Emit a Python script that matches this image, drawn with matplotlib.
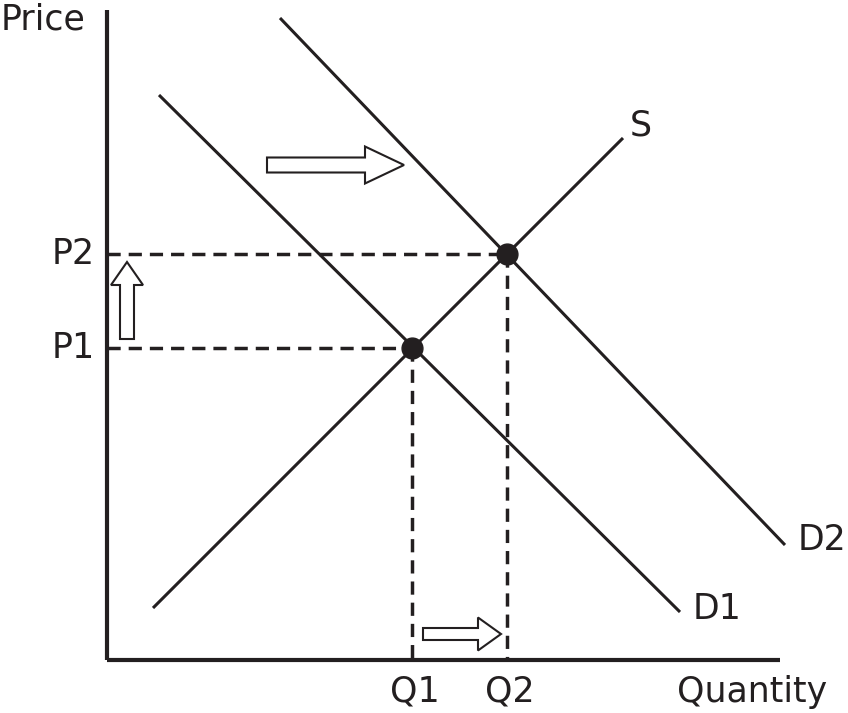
import matplotlib
matplotlib.use('Agg')
import matplotlib.pyplot as plt
from matplotlib.patches import FancyArrow

# supply / demand curves (quantity, price)
supply_q = [4.6, 51.6]
supply_p = [5.2, 52.2]
d1_q = [5.2, 57.3]
d1_p = [56.5, 4.8]
d2_q = [17.3, 67.8]
d2_p = [64.2, 11.5]

# equilibria
eq_q = [30.5, 40.0]
eq_p = [31.2, 40.6]
p_labels = ['P1', 'P2']
q_labels = ['Q1', 'Q2']

# shift arrows: start x, start y, dx, dy, width, head width, head length
shift_arrows = [
    (16.0, 49.5, 13.7, 0.0, 1.5, 3.7, 3.9),
    (2.0, 32.1, 0.0, 7.7, 1.4, 3.2, 2.3),
    (31.6, 2.6, 7.8, 0.0, 1.2, 3.3, 2.3),
]

q_max = 67.3
p_max = 65.0

fig = plt.figure(figsize=(8.48, 7.13), dpi=100)
ax = fig.add_axes([0, 0, 1, 1])
ax.set_xlim(-10.7, 74.1)
ax.set_ylim(-5.3, 66.0)
ax.axis('off')

col = '#231f20'

# axes
ax.plot([0, 0], [0, p_max], color=col, lw=3, solid_capstyle='butt')
ax.plot([0, q_max], [0, 0], color=col, lw=3, solid_capstyle='butt')

# curves
for qs, ps in [(supply_q, supply_p), (d1_q, d1_p), (d2_q, d2_p)]:
    ax.plot(qs, ps, color=col, lw=2.2, solid_capstyle='butt')

# dashed guides and points
for q, p in zip(eq_q, eq_p):
    ax.plot([0, q], [p, p], color=col, lw=2.5, dashes=[3.8, 2.3])
    ax.plot([q, q], [p, 0], color=col, lw=2.5, dashes=[3.8, 2.3])
ax.plot(eq_q, eq_p, 'o', color=col, ms=15, zorder=5)

for x, y, dx, dy, w, hw, hl in shift_arrows:
    ax.add_patch(FancyArrow(x, y, dx, dy, width=w, head_width=hw, head_length=hl,
                            length_includes_head=True, facecolor='white',
                            edgecolor=col, lw=1.5, zorder=4))

fs = 25
for p, lab in zip(eq_p, p_labels):
    ax.text(-1.2, p, lab, ha='right', va='center', fontsize=fs, color=col)
for q, lab in zip(eq_q, q_labels):
    ax.text(q + 0.3, -3.2, lab, ha='center', va='center', fontsize=fs, color=col)

ax.text(-10.6, 64.0, 'Price', ha='left', va='center', fontsize=fs, color=col)
ax.text(64.5, -3.2, 'Quantity', ha='center', va='center', fontsize=fs, color=col)
ax.text(52.3, 53.4, 'S', ha='left', va='center', fontsize=fs, color=col)
ax.text(58.6, 5.1, 'D1', ha='left', va='center', fontsize=fs, color=col)
ax.text(73.9, 12.0, 'D2', ha='right', va='center', fontsize=fs, color=col)

fig.savefig('out.png', dpi=100, facecolor='white')
